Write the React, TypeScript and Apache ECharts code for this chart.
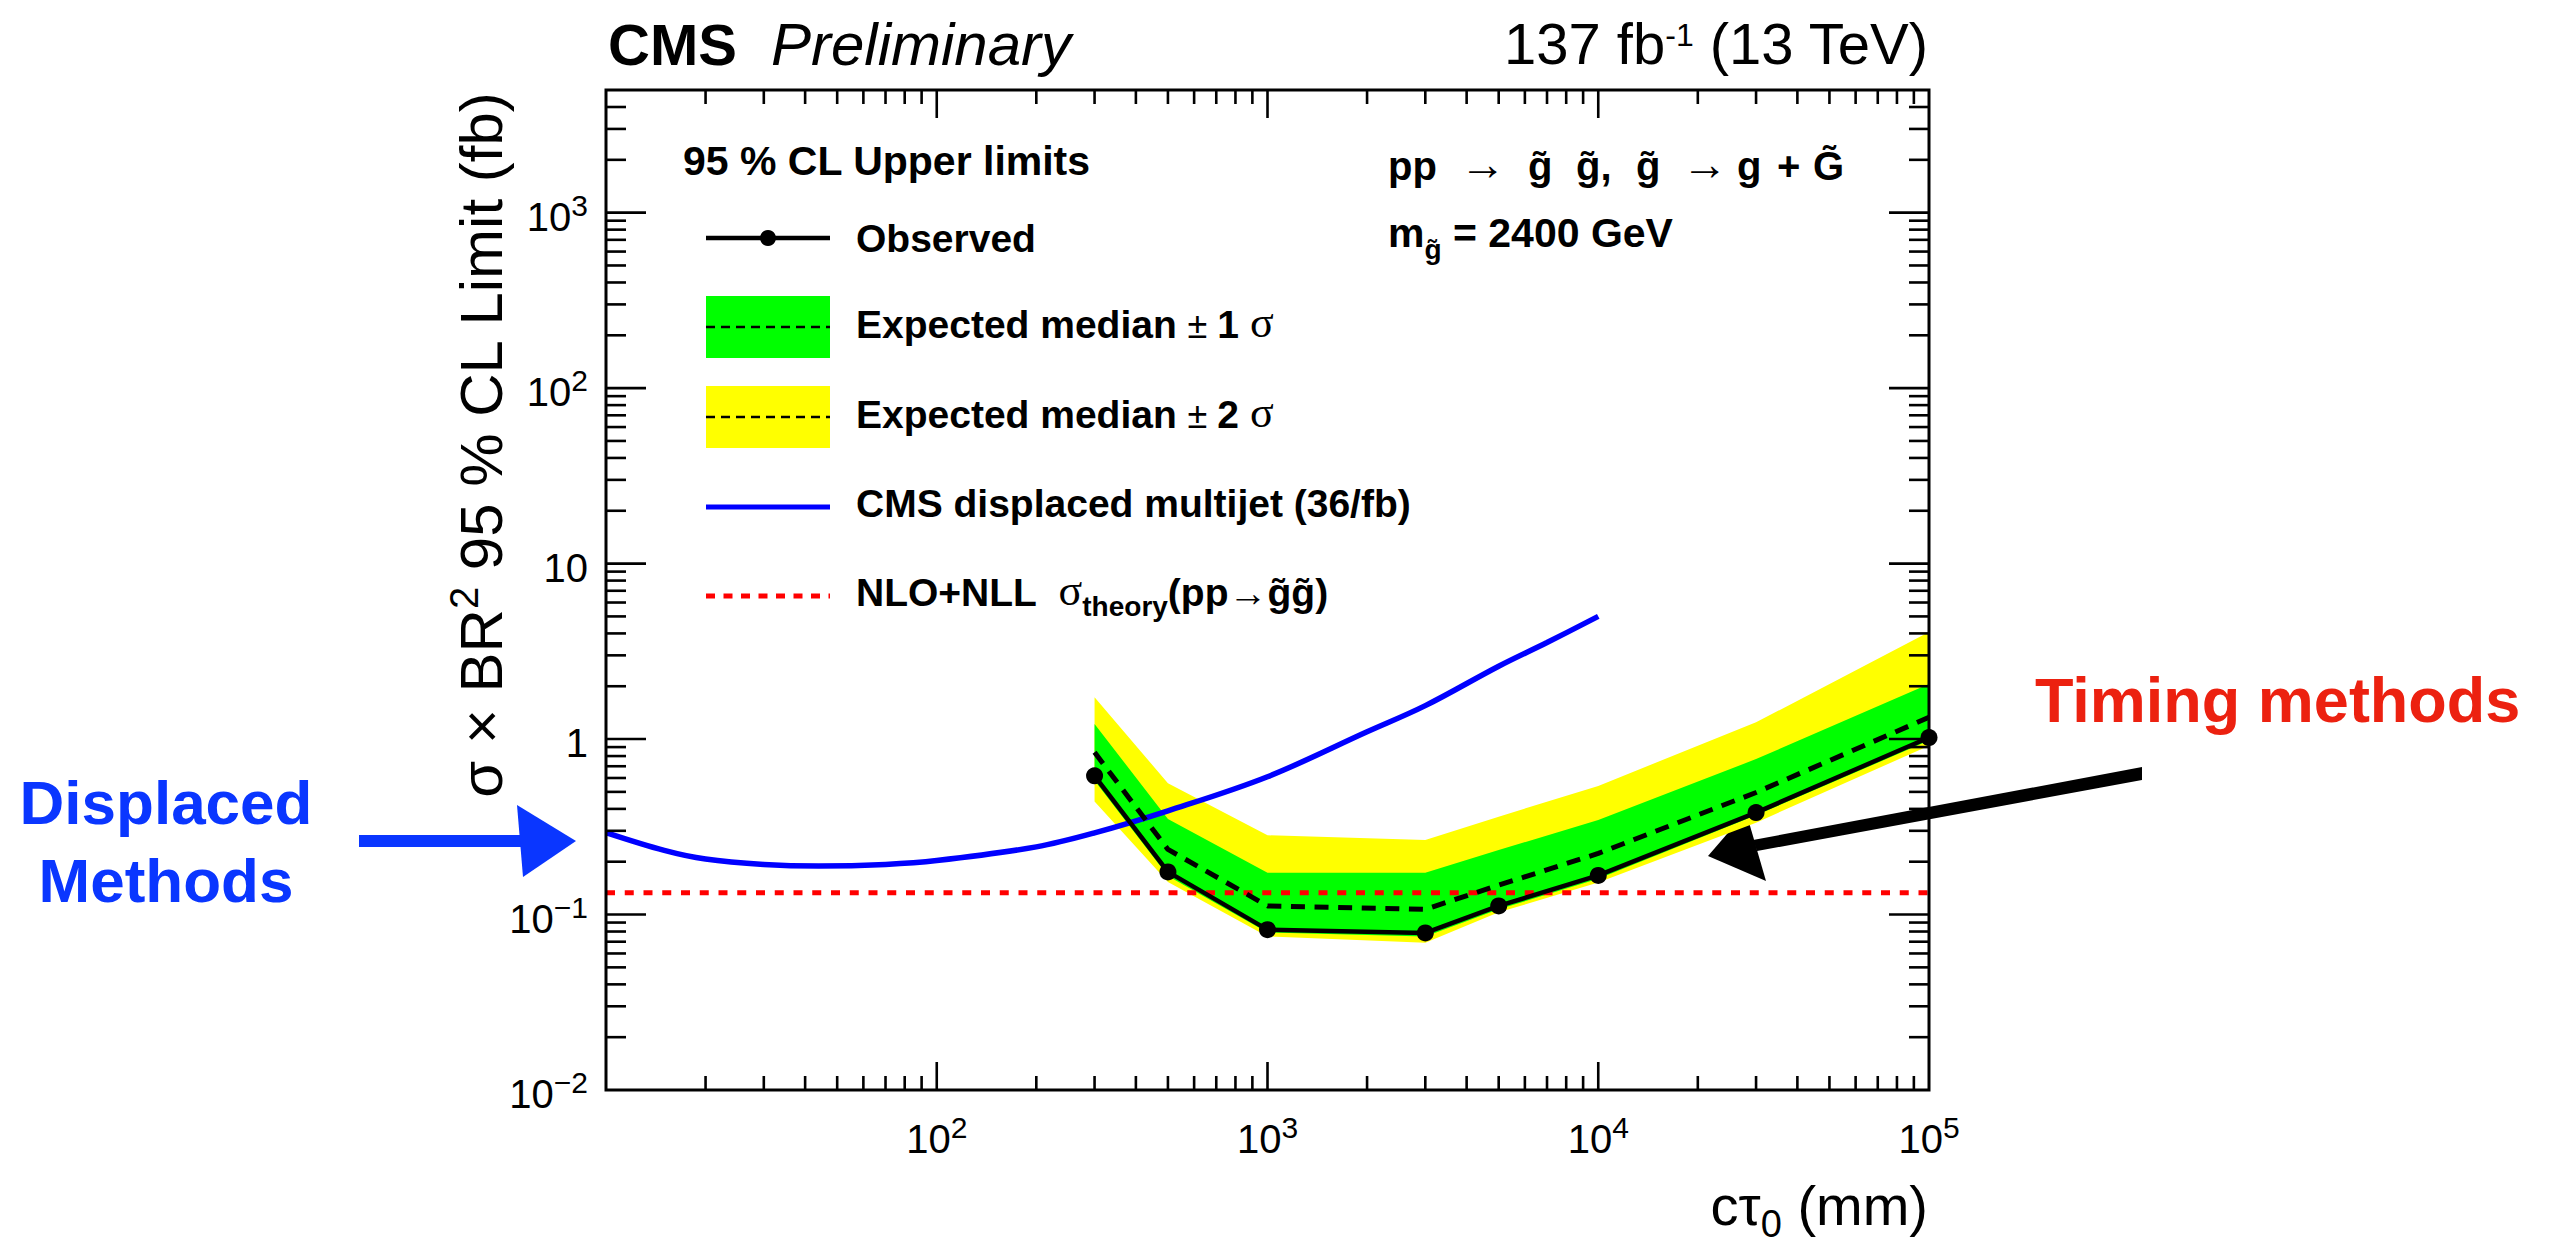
import React, { useEffect, useRef } from "react";
import * as echarts from "echarts";

const SANS = '"Liberation Sans", Arial, Helvetica, sans-serif';
const SERIF = '"Liberation Serif", "Times New Roman", serif';
// distance from the alphabetic baseline to the "central" baseline, in em
const CENTRAL = 0.3465;

// ---- Timing analysis: limits versus c*tau0 (mm) ----
const ctau = [300, 500, 1000, 3000, 5000, 10000, 30000, 100000];
const observed = [0.617, 0.175, 0.082, 0.0786, 0.112, 0.167, 0.381, 1.02];
const expected = [0.84, 0.235, 0.112, 0.107, 0.147, 0.223, 0.496, 1.33];
const expPlus1 = [1.22, 0.35, 0.173, 0.173, 0.233, 0.346, 0.769, 2.06];
const expMinus1 = [0.58, 0.166, 0.079, 0.075, 0.107, 0.16, 0.368, 0.98];
const expPlus2 = [1.73, 0.56, 0.283, 0.266, 0.361, 0.541, 1.245, 4.07];
const expMinus2 = [0.44, 0.153, 0.075, 0.069, 0.103, 0.152, 0.334, 0.916];

// ---- CMS displaced multijet limit (36/fb) ----
const multijetCtau = [10, 15, 20, 30, 44, 70, 100, 200, 300, 500, 1000, 2000, 3000, 5000, 7000, 10000];
const multijetLimit = [0.293, 0.232, 0.207, 0.193, 0.189, 0.193, 0.203, 0.243, 0.292, 0.39, 0.61, 1.1, 1.55, 2.6, 3.55, 5.0];

// ---- NLO+NLL gluino pair cross section (fb) ----
const theoryXsec = 0.133;

// ---- axes ----
const xRange = [10, 100000];
const yRange = [0.01, 5000];
const xDecades = [10, 100, 1000, 10000];
const yDecades = [0.01, 0.1, 1, 10, 100, 1000];
const xMajorTicks = [100, 1000, 10000];
const yMajorTicks = [0.1, 1, 10, 100, 1000];
const xLabelTicks = [100, 1000, 10000, 100000];
const yLabelTicks = [0.01, 0.1, 1, 10, 100, 1000];
const minorMultipliers = [2, 3, 4, 5, 6, 7, 8, 9];

const GREEN = "#00ff00";
const YELLOW = "#ffff00";
const BLUE_ANNOT = "#0a36ff";
const RED_ANNOT = "#ec2110";

interface Piece {
  text: string;
  size: number;
  bold?: boolean;
  italic?: boolean;
  family?: string;
  dy?: number;
  at?: number;
  color?: string;
}

const measureCtx = document.createElement("canvas").getContext("2d") as CanvasRenderingContext2D;

function fontOf(p: Piece) {
  return `${p.italic ? "italic " : ""}${p.bold ? "bold " : ""}${p.size}px ${p.family ?? SANS}`;
}

function widthOf(p: Piece) {
  measureCtx.font = fontOf(p);
  return measureCtx.measureText(p.text).width;
}

// Lays out a run of text pieces (base text, super/subscripts) on one baseline.
function textRun(pieces: Piece[], x: number, baseline: number, align: "left" | "right" | "center", color: string) {
  const widths = pieces.map(widthOf);
  const total = widths.reduce((a, b) => a + b, 0);
  let cx = align === "left" ? x : align === "right" ? x - total : x - total / 2;
  return pieces.map((p, i) => {
    if (p.at !== undefined) cx = p.at;
    const el = {
      type: "text",
      x: cx,
      y: baseline + (p.dy ?? 0) - CENTRAL * p.size,
      silent: true,
      style: {
        text: p.text,
        font: fontOf(p),
        fill: p.color ?? color,
        textAlign: "left",
        align: "left",
        textVerticalAlign: "middle",
        verticalAlign: "middle",
      },
    };
    cx += widths[i];
    return el;
  });
}

function powerLabel(v: number): Piece[] {
  const e = Math.round(Math.log10(v));
  if (e === 0) return [{ text: "1", size: 40 }];
  if (e === 1) return [{ text: "10", size: 40 }];
  return [
    { text: "10", size: 40 },
    { text: e < 0 ? "\u2212" + -e : String(e), size: 30, dy: -15 },
  ];
}

// tick / label / frame items: [x, y, kind]
// kind 0 x-major, 1 x-minor, 2 y-major, 3 y-minor, 4 x-label, 5 y-label, 6 frame
const axisItems: number[][] = [
  ...xMajorTicks.map((v) => [v, 1, 0]),
  ...xDecades.flatMap((d) => minorMultipliers.map((m) => [m * d, 1, 1])),
  ...yMajorTicks.map((v) => [100, v, 2]),
  ...yDecades.flatMap((d) => minorMultipliers.map((m) => m * d).filter((v) => v < yRange[1]).map((v) => [100, v, 3])),
  ...xLabelTicks.map((v) => [v, 1, 4]),
  ...yLabelTicks.map((v) => [100, v, 5]),
  [100, 1, 6],
];

function renderAxisItem(params: any, api: any) {
  const cs = params.coordSys;
  const left = cs.x;
  const top = cs.y;
  const right = cs.x + cs.width;
  const bottom = cs.y + cs.height;
  const kind = api.value(2);
  const tick = { stroke: "#000", lineWidth: 2.6 };
  if (kind === 0 || kind === 1) {
    const px = api.coord([api.value(0), 1])[0];
    const len = kind === 0 ? 28 : 14;
    return {
      type: "group",
      children: [
        { type: "line", shape: { x1: px, y1: bottom, x2: px, y2: bottom - len }, style: tick },
        { type: "line", shape: { x1: px, y1: top, x2: px, y2: top + len }, style: tick },
      ],
    };
  }
  if (kind === 2 || kind === 3) {
    const py = api.coord([100, api.value(1)])[1];
    const len = kind === 2 ? 40 : 20;
    return {
      type: "group",
      children: [
        { type: "line", shape: { x1: left, y1: py, x2: left + len, y2: py }, style: tick },
        { type: "line", shape: { x1: right, y1: py, x2: right - len, y2: py }, style: tick },
      ],
    };
  }
  if (kind === 4) {
    const px = api.coord([api.value(0), 1])[0];
    return { type: "group", children: textRun(powerLabel(api.value(0)), px, bottom + 63, "center", "#000") };
  }
  if (kind === 5) {
    const py = api.coord([100, api.value(1)])[1];
    return { type: "group", children: textRun(powerLabel(api.value(1)), left - 18, py + 18, "right", "#000") };
  }
  return {
    type: "rect",
    shape: { x: left, y: top, width: cs.width, height: cs.height },
    style: { fill: "none", stroke: "#000", lineWidth: 3 },
  };
}

function bandRenderer(lo: number[], hi: number[], color: string) {
  return (params: any, api: any) => {
    if (params.dataIndex !== 0) return null;
    const upper = ctau.map((x, i) => api.coord([x, hi[i]]));
    const lower = ctau.map((x, i) => api.coord([x, lo[i]])).reverse();
    return { type: "polygon", shape: { points: upper.concat(lower) }, style: { fill: color } };
  };
}

function legendGraphics() {
  const x0 = 706;
  const x1 = 830;
  const tx = 856;
  const els: any[] = [];
  els.push(...textRun([{ text: "95 % CL Upper limits", size: 41, bold: true }], 683, 175, "left", "#000"));

  // Observed
  els.push({ type: "line", silent: true, shape: { x1: x0, y1: 238, x2: x1, y2: 238 }, style: { stroke: "#000", lineWidth: 4.5 } });
  els.push({ type: "circle", silent: true, shape: { cx: 768, cy: 238, r: 8 }, style: { fill: "#000" } });
  els.push(...textRun([{ text: "Observed", size: 39, bold: true }], tx, 252, "left", "#000"));

  // Expected +-1 sigma
  els.push({ type: "rect", silent: true, shape: { x: x0, y: 296, width: x1 - x0, height: 62 }, style: { fill: GREEN } });
  els.push({ type: "line", silent: true, shape: { x1: x0, y1: 327, x2: x1, y2: 327 }, style: { stroke: "#000", lineWidth: 2.5, lineDash: [9, 6] } });
  els.push(
    ...textRun(
      [
        { text: "Expected median ", size: 39, bold: true },
        { text: "\u00b1 ", size: 36 },
        { text: "1 ", size: 39, bold: true },
        { text: "\u03c3", size: 44, family: SERIF },
      ],
      tx,
      338,
      "left",
      "#000"
    )
  );

  // Expected +-2 sigma
  els.push({ type: "rect", silent: true, shape: { x: x0, y: 386, width: x1 - x0, height: 62 }, style: { fill: YELLOW } });
  els.push({ type: "line", silent: true, shape: { x1: x0, y1: 417, x2: x1, y2: 417 }, style: { stroke: "#000", lineWidth: 2.5, lineDash: [9, 6] } });
  els.push(
    ...textRun(
      [
        { text: "Expected median ", size: 39, bold: true },
        { text: "\u00b1 ", size: 36 },
        { text: "2 ", size: 39, bold: true },
        { text: "\u03c3", size: 44, family: SERIF },
      ],
      tx,
      428,
      "left",
      "#000"
    )
  );

  // Displaced multijet
  els.push({ type: "line", silent: true, shape: { x1: x0, y1: 507, x2: x1, y2: 507 }, style: { stroke: "#0000ff", lineWidth: 5 } });
  els.push(...textRun([{ text: "CMS displaced multijet (36/fb)", size: 39, bold: true }], tx, 517, "left", "#000"));

  // Theory
  els.push({ type: "line", silent: true, shape: { x1: x0, y1: 596, x2: x1, y2: 596 }, style: { stroke: "#ff0000", lineWidth: 5, lineDash: [9, 8.5] } });
  els.push(
    ...textRun(
      [
        { text: "NLO+NLL  ", size: 39, bold: true },
        { text: "\u03c3", size: 44, family: SERIF },
        { text: "theory", size: 28, bold: true, dy: 10 },
        { text: "(pp\u2192g\u0303g\u0303)", size: 39, bold: true },
      ],
      tx,
      606,
      "left",
      "#000"
    )
  );
  return els;
}

function pageGraphics() {
  const els: any[] = [];
  // header
  els.push(...textRun([{ text: "CMS", size: 58, bold: true }], 608, 65, "left", "#000"));
  els.push(...textRun([{ text: "Preliminary", size: 60, italic: true }], 771, 65, "left", "#000"));
  els.push(
    ...textRun(
      [
        { text: "137 fb", size: 58 },
        { text: "-1", size: 32, dy: -18 },
        { text: " (13 TeV)", size: 58 },
      ],
      1929,
      64,
      "right",
      "#000"
    )
  );

  // y-axis title, rotated to read upwards, right end at the frame top
  els.push({
    type: "group",
    x: 502,
    y: 90,
    rotation: Math.PI / 2,
    silent: true,
    children: textRun(
      [
        { text: "\u03c3 \u00d7 BR", size: 60 },
        { text: "2", size: 40, dy: -24 },
        { text: " 95 % CL Limit (fb)", size: 60 },
      ],
      0,
      0,
      "right",
      "#000"
    ),
  });

  // x-axis title
  els.push(
    ...textRun(
      [
        { text: "c\u03c4", size: 56 },
        { text: "0", size: 38, dy: 12 },
        { text: " (mm)", size: 56 },
      ],
      1928,
      1225,
      "right",
      "#000"
    )
  );

  // process text
  const pb = 180;
  els.push(
    ...textRun(
      [
        { text: "pp", size: 40, bold: true, at: 1388 },
        { text: "\u2192", size: 46, at: 1460 },
        { text: "g\u0303", size: 40, bold: true, at: 1528 },
        { text: "g\u0303,", size: 40, bold: true, at: 1576 },
        { text: "g\u0303", size: 40, bold: true, at: 1636 },
        { text: "\u2192", size: 46, at: 1682 },
        { text: "g", size: 40, bold: true, at: 1737 },
        { text: "+", size: 40, bold: true, at: 1777 },
        { text: "G\u0303", size: 40, bold: true, at: 1813 },
      ],
      1388,
      pb,
      "left",
      "#000"
    )
  );
  els.push(
    ...textRun(
      [
        { text: "m", size: 41, bold: true },
        { text: "g\u0303", size: 28, bold: true, dy: 12 },
        { text: " = 2400 GeV", size: 41, bold: true },
      ],
      1388,
      247,
      "left",
      "#000"
    )
  );

  els.push(...legendGraphics());

  // annotations
  els.push(...textRun([{ text: "Displaced", size: 62, bold: true }], 166, 824, "center", BLUE_ANNOT));
  els.push(...textRun([{ text: "Methods", size: 62, bold: true }], 166, 902, "center", BLUE_ANNOT));
  els.push({
    type: "polygon",
    silent: true,
    shape: { points: [[359, 835], [522, 835], [522, 847], [359, 847]] },
    style: { fill: BLUE_ANNOT },
  });
  els.push({
    type: "polygon",
    silent: true,
    shape: { points: [[517, 805], [576, 841], [523, 877]] },
    style: { fill: BLUE_ANNOT },
  });

  els.push(...textRun([{ text: "Timing methods", size: 63, bold: true }], 2035, 722, "left", RED_ANNOT));
  els.push({
    type: "polygon",
    silent: true,
    shape: { points: [[2142, 767], [2142, 780], [1757, 851], [1753, 840]] },
    style: { fill: "#000" },
  });
  els.push({
    type: "polygon",
    silent: true,
    shape: { points: [[1708, 856], [1746, 812], [1766, 881]] },
    style: { fill: "#000" },
  });
  return els;
}

export default function App() {
  const ref = useRef<HTMLDivElement>(null);

  useEffect(() => {
    if (!ref.current) return;
    const chart = echarts.init(ref.current, undefined, { renderer: "svg" });
    const hiddenAxis = {
      axisLine: { show: false },
      axisTick: { show: false },
      axisLabel: { show: false },
      splitLine: { show: false },
      minorTick: { show: false },
    };
    chart.setOption({
      animation: false,
      backgroundColor: "#ffffff",
      grid: { left: 606, top: 90, width: 1323, height: 1000, show: false, containLabel: false, outerBoundsMode: "none" },
      xAxis: { type: "log", logBase: 10, min: xRange[0], max: xRange[1], ...hiddenAxis },
      yAxis: { type: "log", logBase: 10, min: yRange[0], max: yRange[1], ...hiddenAxis },
      graphic: { elements: pageGraphics() },
      series: [
        {
          type: "custom",
          name: "Expected median \u00b1 2 \u03c3",
          renderItem: bandRenderer(expMinus2, expPlus2, YELLOW),
          data: ctau.map((x, i) => [x, expMinus2[i], expPlus2[i]]),
          encode: { x: 0, y: [1, 2] },
          z: 1,
          silent: true,
        },
        {
          type: "custom",
          name: "Expected median \u00b1 1 \u03c3",
          renderItem: bandRenderer(expMinus1, expPlus1, GREEN),
          data: ctau.map((x, i) => [x, expMinus1[i], expPlus1[i]]),
          encode: { x: 0, y: [1, 2] },
          z: 2,
          silent: true,
        },
        {
          type: "line",
          name: "CMS displaced multijet (36/fb)",
          data: multijetCtau.map((x, i) => [x, multijetLimit[i]]),
          smooth: 0.35,
          symbol: "none",
          lineStyle: { color: "#0000ff", width: 5.5 },
          z: 3,
          silent: true,
        },
        {
          type: "line",
          name: "NLO+NLL",
          data: [
            [xRange[0], theoryXsec],
            [xRange[1], theoryXsec],
          ],
          symbol: "none",
          lineStyle: { color: "#ff0000", width: 5, type: [9, 9.75] },
          z: 4,
          silent: true,
        },
        {
          type: "line",
          name: "Expected",
          data: ctau.map((x, i) => [x, expected[i]]),
          symbol: "none",
          lineStyle: { color: "#000", width: 5, type: [14, 9.6] },
          z: 5,
          silent: true,
        },
        {
          type: "line",
          name: "Observed",
          data: ctau.map((x, i) => [x, observed[i]]),
          symbol: "circle",
          symbolSize: 17,
          itemStyle: { color: "#000" },
          lineStyle: { color: "#000", width: 4.5 },
          z: 6,
          silent: true,
        },
        {
          type: "custom",
          name: "frame",
          renderItem: renderAxisItem,
          data: axisItems,
          dimensions: ["x", "y", "kind"],
          encode: { x: 0, y: 1 },
          clip: false,
          z: 10,
          silent: true,
        },
      ],
    });
    return () => chart.dispose();
  }, []);

  return (
    <div
      ref={ref}
      style={{ position: "fixed", left: 0, top: 0, width: 2556, height: 1249, background: "#ffffff" }}
    />
  );
}
